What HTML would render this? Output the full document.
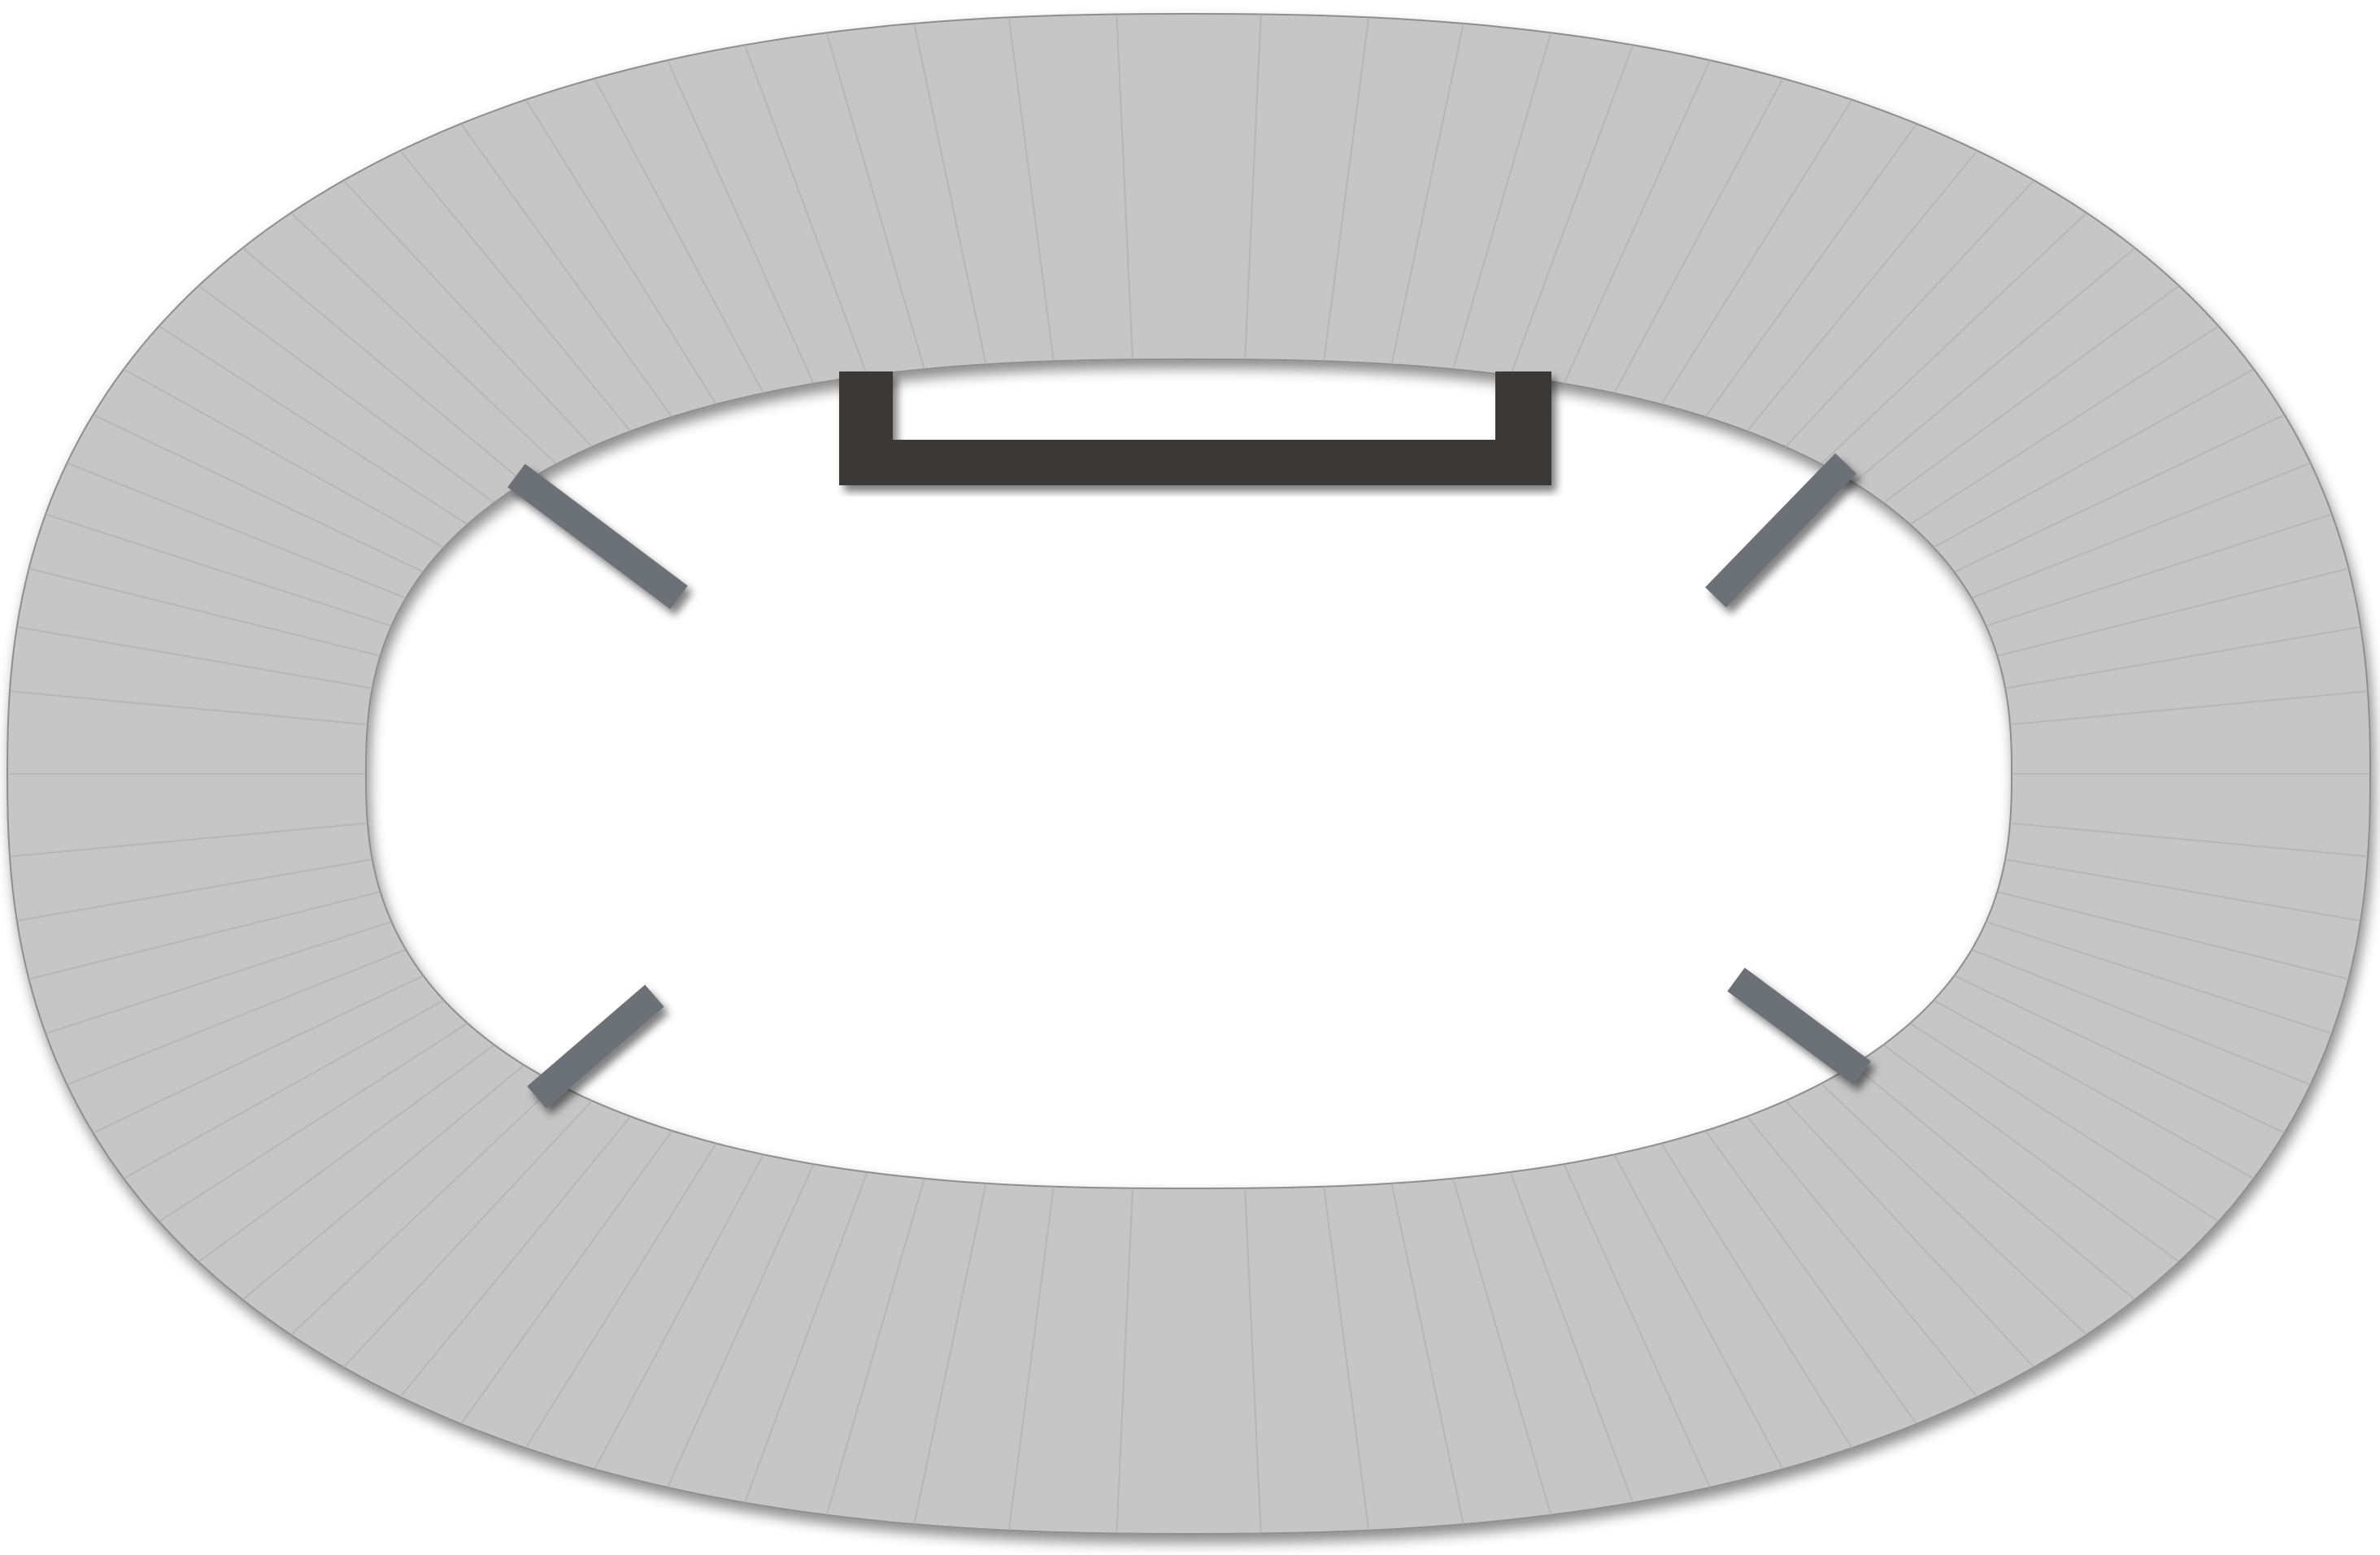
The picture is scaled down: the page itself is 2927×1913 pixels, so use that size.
<!DOCTYPE html>
<html><head><meta charset="utf-8"><style>
html,body{margin:0;padding:0;background:#fff;}
svg{display:block}
</style></head><body>
<svg id="s" width="2927" height="1913" viewBox="0 0 2927 1913" xmlns="http://www.w3.org/2000/svg">
<defs>
<filter id="sh" x="-5%" y="-5%" width="110%" height="115%"><feDropShadow dx="4" dy="10" stdDeviation="8" flood-color="#000" flood-opacity="0.45"/></filter>
<filter id="sh2"><feDropShadow dx="6" dy="8" stdDeviation="5" flood-color="#000" flood-opacity="0.5"/></filter>
</defs>
<path id="ring" fill="#c6c6c6" stroke="#8e8e8e" stroke-width="2" fill-rule="evenodd" filter="url(#sh)"/>
<g id="lines" stroke="#adadad" stroke-width="2" opacity="0.6"></g>
<g filter="url(#sh2)">
<path d="M1032 457 H1908 V597 H1032 Z M1098 457 V541 H1839 V457 Z" fill="#3a3838" fill-rule="evenodd"/>
</g>
<g stroke="#6c7178" stroke-width="36" filter="url(#sh2)">
<line x1="635" y1="585" x2="835" y2="735"/>
<line x1="2270" y1="570" x2="2110" y2="735"/>
<line x1="805" y1="1225" x2="660" y2="1350"/>
<line x1="2135" y1="1205" x2="2290" y2="1320"/>
</g>
</svg>
<script>
const cx=1462, cy=952;
function se(rx,ry,n,N){let p=[];for(let i=0;i<N;i++){const t=i/N*2*Math.PI,c=Math.cos(t),s=Math.sin(t);
p.push([cx+rx*Math.sign(c)*Math.pow(Math.abs(c),2/n),cy+ry*Math.sign(s)*Math.pow(Math.abs(s),2/n)]);}return p;}
const outer=se(1453,935,2.4,360), inner=se(1012,510,2.5,360);
const toD=p=>'M'+p.map(q=>q[0].toFixed(1)+' '+q[1].toFixed(1)).join(' L')+' Z';
document.getElementById('ring').setAttribute('d',toD(outer)+' '+toD(inner));
const g=document.getElementById('lines');
for(let i=0;i<360;i+=4){const a=outer[i],b=inner[i];
const l=document.createElementNS('http://www.w3.org/2000/svg','line');


l.setAttribute('x1',a[0]);l.setAttribute('y1',a[1]);l.setAttribute('x2',b[0]);l.setAttribute('y2',b[1]);g.appendChild(l);}
</script>
</body></html>
